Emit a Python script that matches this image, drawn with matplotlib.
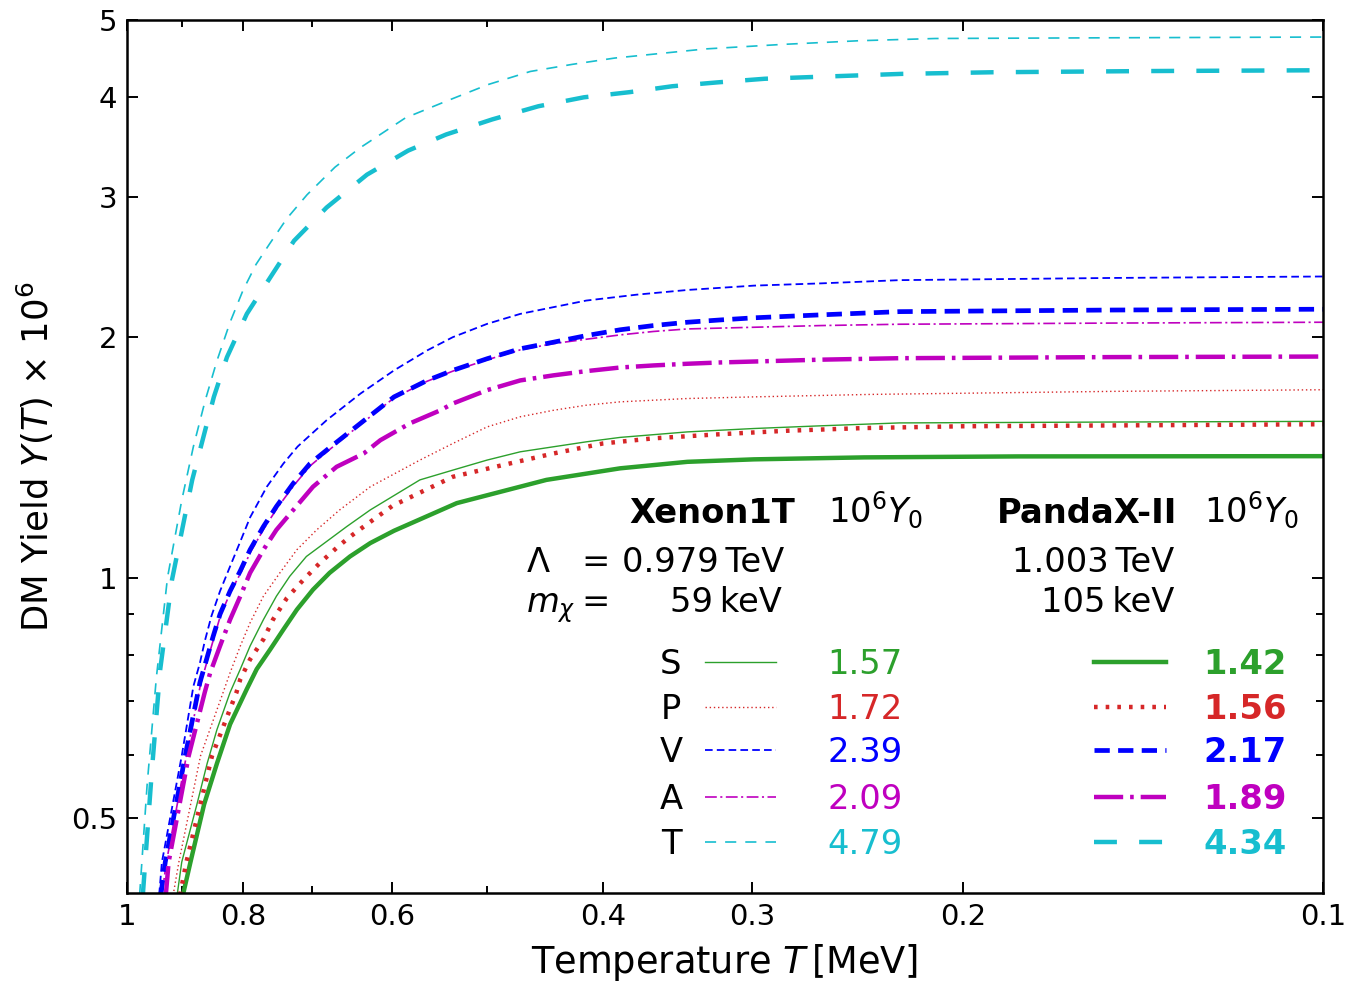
import matplotlib
matplotlib.use("Agg")
import matplotlib.pyplot as plt
from matplotlib.ticker import FixedLocator, NullFormatter, FixedFormatter
from matplotlib.lines import Line2D

plt.rcParams['lines.scale_dashes'] = False
plt.rcParams['mathtext.fontset'] = 'dejavusans'
plt.rcParams['font.family'] = ['DejaVu Sans']

# ---------------- data ----------------
# Xenon1T (thin lines)
t_xe_s = [0.908, 0.90, 0.874, 0.857, 0.841, 0.82, 0.804, 0.789, 0.769, 0.75, 0.731, 0.708, 0.655, 0.626,
          0.569, 0.534, 0.50, 0.469, 0.44, 0.413, 0.387, 0.34, 0.299, 0.263, 0.226, 0.15, 0.1]
y_xe_s = [0.40, 0.44, 0.52, 0.585, 0.645, 0.718, 0.768, 0.821, 0.886, 0.948, 1.004, 1.063, 1.159, 1.216,
          1.326, 1.364, 1.404, 1.438, 1.459, 1.48, 1.499, 1.523, 1.538, 1.55, 1.563, 1.567, 1.57]

t_xe_p = [0.915, 0.905, 0.868, 0.833, 0.82, 0.804, 0.789, 0.769, 0.745, 0.721, 0.694, 0.664, 0.626, 0.569,
          0.534, 0.50, 0.469, 0.44, 0.413, 0.387, 0.34, 0.299, 0.239, 0.15, 0.1]
y_xe_p = [0.40, 0.44, 0.598, 0.711, 0.76, 0.821, 0.878, 0.948, 1.014, 1.084, 1.148, 1.216, 1.30, 1.404,
          1.473, 1.545, 1.591, 1.621, 1.645, 1.661, 1.677, 1.685, 1.697, 1.712, 1.72]

t_xe_v = [0.94, 0.935, 0.90, 0.88, 0.869, 0.861, 0.85, 0.836, 0.82, 0.804, 0.789, 0.764, 0.74, 0.72, 0.681,
          0.638, 0.598, 0.561, 0.534, 0.50, 0.469, 0.44, 0.413, 0.375, 0.34, 0.299, 0.263, 0.226, 0.15, 0.1]
y_xe_v = [0.40, 0.44, 0.598, 0.731, 0.782, 0.832, 0.895, 0.962, 1.033, 1.11, 1.19, 1.30, 1.39, 1.46, 1.575,
          1.701, 1.819, 1.927, 2.002, 2.08, 2.141, 2.183, 2.225, 2.263, 2.294, 2.323, 2.338, 2.36, 2.375, 2.385]

t_xe_a = [0.935, 0.927, 0.892, 0.868, 0.857, 0.846, 0.835, 0.819, 0.803, 0.788, 0.768, 0.749, 0.725, 0.702,
          0.676, 0.638, 0.598, 0.561, 0.534, 0.50, 0.469, 0.44, 0.413, 0.387, 0.363, 0.34, 0.299, 0.263,
          0.226, 0.15, 0.1]
y_xe_a = [0.40, 0.44, 0.598, 0.735, 0.786, 0.84, 0.898, 0.96, 1.015, 1.078, 1.153, 1.222, 1.306, 1.383,
          1.45, 1.556, 1.68, 1.763, 1.815, 1.875, 1.93, 1.965, 1.99, 2.015, 2.035, 2.05, 2.06, 2.07,
          2.078, 2.085, 2.09]

t_xe_t = [0.976, 0.962, 0.945, 0.925, 0.90, 0.88, 0.86, 0.841, 0.82, 0.80, 0.78, 0.76, 0.735, 0.707, 0.67,
          0.638, 0.585, 0.541, 0.499, 0.46, 0.424, 0.391, 0.358, 0.328, 0.283, 0.244, 0.211, 0.15, 0.1]
y_xe_t = [0.40, 0.55, 0.75, 1.0, 1.25, 1.46, 1.67, 1.87, 2.09, 2.29, 2.47, 2.62, 2.82, 3.02, 3.27,
          3.46, 3.77, 3.955, 4.15, 4.31, 4.40, 4.48, 4.54, 4.60, 4.66, 4.71, 4.74, 4.75, 4.76]

# PandaX-II (thick lines)
t_pd_s = [0.898, 0.885, 0.862, 0.841, 0.82, 0.794, 0.779, 0.759, 0.74, 0.721, 0.699, 0.677, 0.651, 0.626, 0.598,
          0.53, 0.446, 0.387, 0.34, 0.299, 0.242, 0.18, 0.1]
y_pd_s = [0.40, 0.44, 0.52, 0.585, 0.655, 0.725, 0.768, 0.813, 0.861, 0.912, 0.966, 1.014, 1.063, 1.105, 1.145,
          1.24, 1.326, 1.371, 1.397, 1.407, 1.415, 1.419, 1.42]

t_pd_p = [0.903, 0.892, 0.849, 0.81, 0.804, 0.789, 0.769, 0.755, 0.735, 0.712, 0.69, 0.666, 0.653, 0.641,
          0.60, 0.534, 0.485, 0.44, 0.40, 0.363, 0.319, 0.281, 0.242, 0.2, 0.1]
y_pd_p = [0.40, 0.44, 0.598, 0.718, 0.746, 0.79, 0.837, 0.886, 0.943, 0.994, 1.043, 1.094, 1.121, 1.145,
          1.23, 1.338, 1.384, 1.431, 1.473, 1.495, 1.513, 1.528, 1.54, 1.548, 1.557]

t_pd_v = [0.937, 0.929, 0.894, 0.869, 0.858, 0.847, 0.836, 0.82, 0.804, 0.789, 0.769, 0.75, 0.726, 0.703,
          0.677, 0.638, 0.598, 0.561, 0.534, 0.50, 0.469, 0.44, 0.413, 0.387, 0.363, 0.34, 0.319, 0.299,
          0.263, 0.226, 0.15, 0.1]
y_pd_v = [0.40, 0.44, 0.598, 0.739, 0.79, 0.845, 0.9, 0.962, 1.02, 1.084, 1.159, 1.228, 1.313, 1.39,
          1.455, 1.561, 1.685, 1.767, 1.819, 1.881, 1.936, 1.973, 2.011, 2.045, 2.07, 2.09, 2.104, 2.117,
          2.135, 2.155, 2.165, 2.17]

t_pd_a = [0.928, 0.923, 0.888, 0.861, 0.852, 0.836, 0.82, 0.804, 0.789, 0.769, 0.75, 0.726, 0.699, 0.668,
          0.634, 0.614, 0.58, 0.547, 0.534, 0.50, 0.469, 0.44, 0.413, 0.387, 0.363, 0.34, 0.319, 0.299,
          0.263, 0.226, 0.15, 0.1]
y_pd_a = [0.40, 0.44, 0.598, 0.718, 0.76, 0.821, 0.886, 0.948, 1.014, 1.084, 1.148, 1.216, 1.30, 1.377,
          1.431, 1.487, 1.561, 1.621, 1.653, 1.718, 1.767, 1.793, 1.815, 1.834, 1.845, 1.854, 1.861, 1.866,
          1.876, 1.884, 1.89, 1.893]

t_pd_t = [0.970, 0.962, 0.953, 0.938, 0.917, 0.882, 0.846, 0.825, 0.794, 0.759, 0.725, 0.681, 0.63, 0.582,
          0.541, 0.495, 0.453, 0.415, 0.38, 0.35, 0.321, 0.293, 0.269, 0.246, 0.225, 0.206, 0.189, 0.14, 0.1]
y_pd_t = [0.40, 0.475, 0.576, 0.768, 0.994, 1.326, 1.685, 1.889, 2.141, 2.378, 2.644, 2.91, 3.20, 3.43,
          3.593, 3.753, 3.898, 4.0, 4.06, 4.13, 4.176, 4.22, 4.24, 4.26, 4.28, 4.29, 4.30, 4.315, 4.325]

labels = ["S", "P", "V", "A", "T"]
y0_xenon = ["1.57", "1.72", "2.39", "2.09", "4.79"]
y0_pandax = ["1.42", "1.56", "2.17", "1.89", "4.34"]

x_ticks = [1, 0.8, 0.6, 0.4, 0.3, 0.2, 0.1]
x_tick_labels = ["1", "0.8", "0.6", "0.4", "0.3", "0.2", "0.1"]
x_minor = [0.9, 0.7, 0.5]
y_ticks = [0.5, 1, 2, 3, 4, 5]
y_tick_labels = ["0.5", "1", "2", "3", "4", "5"]
y_minor = [0.6, 0.7, 0.8, 0.9]

# ---------------- styles ----------------
C_S, C_P, C_V, C_A, C_T = '#2ca02c', '#d62728', '#0000ff', '#bf00bf', '#17becf'
colors = [C_S, C_P, C_V, C_A, C_T]
thin_styles = [
    dict(lw=1.0, ls='-'),
    dict(lw=1.0, dashes=(1.0, 2.0)),
    dict(lw=1.3, dashes=(5.5, 3.0)),
    dict(lw=1.2, dashes=(8.5, 2.5, 1.5, 2.5)),
    dict(lw=1.2, dashes=(8.0, 6.5)),
]
thick_styles = [
    dict(lw=3.2, ls='-'),
    dict(lw=3.2, dashes=(2.6, 5.8)),
    dict(lw=3.4, dashes=(11.0, 6.0)),
    dict(lw=3.2, dashes=(21.0, 5.0, 2.6, 5.0)),
    dict(lw=3.2, dashes=(16.5, 16.0)),
]

xe_t = [t_xe_s, t_xe_p, t_xe_v, t_xe_a, t_xe_t]
xe_y = [y_xe_s, y_xe_p, y_xe_v, y_xe_a, y_xe_t]
pd_t = [t_pd_s, t_pd_p, t_pd_v, t_pd_a, t_pd_t]
pd_y = [y_pd_s, y_pd_p, y_pd_v, y_pd_a, y_pd_t]

W, H = 1347, 984
fig = plt.figure(figsize=(W / 100, H / 100), dpi=100)
ax = fig.add_axes([127 / W, (H - 893) / H, 1196 / W, 873 / H])
ax.set_xscale('log')
ax.set_yscale('log')

for i in range(5):
    ax.plot(xe_t[i], xe_y[i], color=colors[i], **thin_styles[i])
for i in range(5):
    ax.plot(pd_t[i], pd_y[i], color=colors[i], **thick_styles[i])

ax.set_xlim(1, 0.1)
ax.set_ylim(0.4025, 5)

ax.xaxis.set_major_locator(FixedLocator(x_ticks))
ax.xaxis.set_major_formatter(FixedFormatter(x_tick_labels))
ax.xaxis.set_minor_locator(FixedLocator(x_minor))
ax.xaxis.set_minor_formatter(NullFormatter())
ax.yaxis.set_major_locator(FixedLocator(y_ticks))
ax.yaxis.set_major_formatter(FixedFormatter(y_tick_labels))
ax.yaxis.set_minor_locator(FixedLocator(y_minor))
ax.yaxis.set_minor_formatter(NullFormatter())

ax.tick_params(which='both', direction='in', top=True, right=True, labelsize=21, width=1.4)
ax.tick_params(which='major', length=8, pad=7)
ax.tick_params(which='minor', length=5)
for sp in ax.spines.values():
    sp.set_linewidth(1.8)

ax.set_xlabel('Temperature $T\\,$[MeV]', fontsize=26.5, labelpad=8)
ax.set_ylabel('DM Yield $Y(T)$ $\\times$ 10$^6$', fontsize=25.5, labelpad=11)

# ---------------- in-plot legend / table ----------------
def axx(px):
    return (px - 127) / 1196.0

def axy(py):
    return (893 - py) / 873.0

tr = ax.transAxes
fs = 24.3
ax.text(axx(795), axy(523), 'Xenon1T', transform=tr, fontsize=fs, fontweight='bold', ha='right', va='baseline')
ax.text(axx(828), axy(523), '$10^6Y_0$', transform=tr, fontsize=fs, ha='left', va='baseline')
ax.text(axx(997), axy(523), 'PandaX-II', transform=tr, fontsize=fs, fontweight='bold', ha='left', va='baseline')
ax.text(axx(1204), axy(523), '$10^6Y_0$', transform=tr, fontsize=fs, ha='left', va='baseline')

ax.text(axx(526), axy(572), '$\\Lambda$', transform=tr, fontsize=fs, ha='left', va='baseline')
ax.text(axx(581), axy(572), '=', transform=tr, fontsize=fs, ha='left', va='baseline')
ax.text(axx(784), axy(572), '0.979\u2009TeV', transform=tr, fontsize=fs, ha='right', va='baseline')
ax.text(axx(1174), axy(572), '1.003\u2009TeV', transform=tr, fontsize=fs, ha='right', va='baseline')

ax.text(axx(526), axy(612), '$m_\\chi$', transform=tr, fontsize=fs, ha='left', va='baseline')
ax.text(axx(581), axy(612), '=', transform=tr, fontsize=fs, ha='left', va='baseline')
ax.text(axx(782), axy(612), '59\u2009keV', transform=tr, fontsize=fs, ha='right', va='baseline')
ax.text(axx(1174), axy(612), '105\u2009keV', transform=tr, fontsize=fs, ha='right', va='baseline')

row_py = [662, 707, 750, 797, 842]
for i in range(5):
    yc = axy(row_py[i])
    yb = axy(row_py[i] + 12)
    ax.text(axx(671), yb, labels[i], transform=tr, fontsize=fs, ha='center', va='baseline')
    ax.add_line(Line2D([axx(705), axx(776)], [yc, yc], transform=tr, color=colors[i], **thin_styles[i]))
    ax.text(axx(827), yb, y0_xenon[i], transform=tr, fontsize=fs, ha='left', va='baseline', color=colors[i])
    ax.add_line(Line2D([axx(1094), axx(1166)], [yc, yc], transform=tr, color=colors[i], **thick_styles[i]))
    ax.text(axx(1203), yb, y0_pandax[i], transform=tr, fontsize=fs, ha='left', va='baseline',
            color=colors[i], fontweight='bold')

fig.savefig('out.png', dpi=100)
